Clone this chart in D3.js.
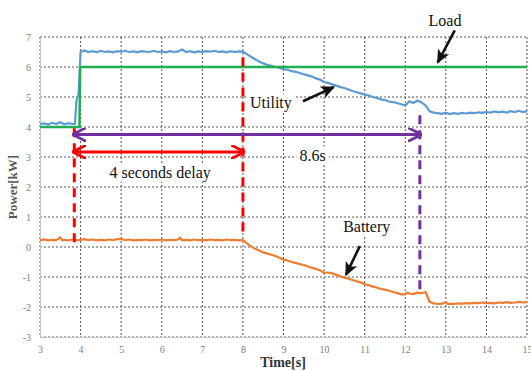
<!DOCTYPE html>
<html>
<head>
<meta charset="utf-8">
<script src="https://cdn.jsdelivr.net/npm/d3@7"></script>
<style>
body { margin: 0; background: #fff; }
svg text { font-family: "Liberation Serif", "DejaVu Serif", serif !important; }
.tick text { fill: #808080; font-size: 10px; }
.grid line { stroke: #555; stroke-dasharray: 2,2; stroke-width: 1; }
.note { font-size: 16px; fill: #111; }
</style>
</head>
<body>
<script>
// time [s], power [kW]
var load = [[3, 4], [3.97, 4], [3.99, 6], [15, 6]];

var utility = [
  [3.0,4.10],[3.1,4.12],[3.2,4.08],[3.3,4.14],[3.4,4.10],[3.5,4.16],[3.6,4.09],[3.7,4.13],[3.8,4.10],[3.86,4.10],
  [3.9,4.9],[3.95,5.1],[4.0,6.5],[4.1,6.55],[4.2,6.50],[4.3,6.53],[4.4,6.49],[4.5,6.54],[4.6,6.50],[4.7,6.52],
  [4.8,6.49],[4.9,6.53],[5.0,6.51],[5.1,6.54],[5.2,6.50],[5.3,6.52],[5.4,6.49],[5.5,6.53],[5.6,6.51],[5.7,6.50],
  [5.8,6.54],[5.9,6.50],[6.0,6.52],[6.1,6.49],[6.2,6.53],[6.3,6.50],[6.4,6.52],[6.5,6.58],[6.6,6.50],[6.7,6.53],
  [6.8,6.49],[6.9,6.52],[7.0,6.50],[7.1,6.53],[7.2,6.51],[7.3,6.54],[7.4,6.50],[7.5,6.52],[7.6,6.49],[7.7,6.53],
  [7.8,6.50],[7.9,6.52],[8.0,6.51],[8.1,6.43],[8.2,6.34],[8.3,6.26],[8.4,6.18],[8.5,6.12],[8.6,6.07],[8.7,6.04],
  [8.8,6.00],[8.9,5.98],[9.0,5.93],[9.1,5.91],[9.2,5.86],[9.3,5.84],[9.4,5.80],[9.5,5.76],[9.6,5.72],[9.7,5.68],
  [9.8,5.62],[9.9,5.58],[10.0,5.50],[10.1,5.47],[10.2,5.42],[10.3,5.38],[10.4,5.33],[10.5,5.30],[10.6,5.25],[10.7,5.20],
  [10.8,5.16],[10.9,5.12],[11.0,5.08],[11.1,5.05],[11.2,5.00],[11.3,4.97],[11.4,4.92],[11.5,4.90],[11.6,4.85],[11.7,4.83],
  [11.8,4.80],[11.9,4.76],[12.0,4.72],[12.1,4.86],[12.2,4.80],[12.3,4.88],[12.4,4.82],[12.5,4.72],[12.6,4.52],[12.7,4.48],
  [12.8,4.46],[12.9,4.44],[13.0,4.48],[13.1,4.43],[13.2,4.46],[13.3,4.44],[13.4,4.47],[13.5,4.45],[13.6,4.48],[13.7,4.46],
  [13.8,4.49],[13.9,4.47],[14.0,4.50],[14.1,4.48],[14.2,4.52],[14.3,4.49],[14.4,4.51],[14.5,4.48],[14.6,4.53],[14.7,4.50],
  [14.8,4.54],[14.9,4.50],[15.0,4.53]
];

var battery = [
  [3.0,0.22],[3.1,0.25],[3.2,0.22],[3.3,0.24],[3.4,0.23],[3.5,0.32],[3.55,0.22],[3.6,0.24],[3.7,0.22],[3.8,0.25],
  [3.9,0.23],[4.0,0.24],[4.1,0.26],[4.2,0.23],[4.3,0.25],[4.4,0.22],[4.5,0.24],[4.6,0.22],[4.7,0.25],[4.8,0.23],
  [4.9,0.26],[5.0,0.27],[5.1,0.23],[5.2,0.25],[5.3,0.22],[5.4,0.24],[5.5,0.23],[5.6,0.25],[5.7,0.22],[5.8,0.24],
  [5.9,0.23],[6.0,0.25],[6.1,0.22],[6.2,0.24],[6.3,0.23],[6.4,0.25],[6.45,0.31],[6.5,0.23],[6.6,0.24],[6.7,0.22],
  [6.8,0.25],[6.9,0.23],[7.0,0.24],[7.1,0.22],[7.2,0.25],[7.3,0.23],[7.4,0.24],[7.5,0.22],[7.6,0.25],[7.7,0.23],
  [7.8,0.24],[7.9,0.22],[8.0,0.23],[8.1,0.12],[8.2,0.02],[8.3,-0.06],[8.4,-0.12],[8.5,-0.18],[8.6,-0.22],[8.7,-0.26],
  [8.8,-0.30],[8.9,-0.36],[9.0,-0.42],[9.1,-0.45],[9.2,-0.50],[9.3,-0.53],[9.4,-0.57],[9.5,-0.60],[9.6,-0.65],[9.7,-0.69],
  [9.8,-0.73],[9.9,-0.78],[10.0,-0.86],[10.1,-0.85],[10.2,-0.88],[10.3,-0.93],[10.4,-0.98],[10.5,-1.02],[10.6,-1.06],[10.7,-1.10],
  [10.8,-1.14],[10.9,-1.18],[11.0,-1.24],[11.1,-1.27],[11.2,-1.32],[11.3,-1.35],[11.4,-1.40],[11.5,-1.42],[11.6,-1.46],[11.7,-1.50],
  [11.8,-1.53],[11.9,-1.58],[12.0,-1.58],[12.05,-1.52],[12.1,-1.55],[12.2,-1.57],[12.3,-1.52],[12.4,-1.54],[12.5,-1.50],[12.6,-1.82],
  [12.7,-1.88],[12.8,-1.90],[12.9,-1.89],[13.0,-1.84],[13.05,-1.90],[13.1,-1.89],[13.2,-1.90],[13.3,-1.88],[13.4,-1.89],[13.5,-1.87],
  [13.6,-1.88],[13.7,-1.86],[13.8,-1.87],[13.9,-1.85],[14.0,-1.87],[14.1,-1.86],[14.2,-1.88],[14.3,-1.85],[14.4,-1.86],[14.5,-1.84],
  [14.6,-1.86],[14.7,-1.85],[14.8,-1.83],[14.9,-1.85],[15.0,-1.84]
];

var xTicks = [3, 4, 5, 6, 7, 8, 9, 10, 11, 12, 13, 14, 15];
var yTicks = [-3, -2, -1, 0, 1, 2, 3, 4, 5, 6, 7];

// annotation marks in data units
var dashedLines = [
  {t: 3.845, y0: 3.96, y1: 0.12, color: "#ff0000"},
  {t: 8.0, y0: 6.32, y1: 0.33, color: "#ff0000"},
  {t: 12.36, y0: 4.39, y1: -1.59, color: "#7030a0"}
];
var spans = [
  {t0: 3.845, t1: 8.0, v: 3.17, color: "#ff0000", head: "head-red"},
  {t0: 3.845, t1: 12.36, v: 3.75, color: "#7030a0", head: "head-purple"}
];
var labels = [
  {text: "Load", t: 12.98, v: 7.56},
  {text: "Utility", t: 8.69, v: 4.83},
  {text: "8.6s", t: 9.72, v: 3.07},
  {text: "4 seconds delay", t: 5.96, v: 2.5},
  {text: "Battery", t: 11.05, v: 0.68}
];
var pointers = [
  {t0: 13.22, v0: 7.22, t1: 12.8, v1: 6.15},
  {t0: 9.48, v0: 4.86, t1: 10.24, v1: 5.33},
  {t0: 10.88, v0: 0.03, t1: 10.54, v1: -0.93}
];

var width = 531, height = 371;
var x = d3.scaleLinear().domain([3, 15]).range([40, 527]);
var y = d3.scaleLinear().domain([-3, 7]).range([337, 37]);

var svg = d3.select("body").append("svg")
    .attr("width", width)
    .attr("height", height);

var defs = svg.append("defs");
function marker(id, color, size) {
  defs.append("marker")
      .attr("id", id)
      .attr("viewBox", "0 0 10 10")
      .attr("refX", 8).attr("refY", 5)
      .attr("markerWidth", size).attr("markerHeight", size)
      .attr("markerUnits", "userSpaceOnUse")
      .attr("orient", "auto-start-reverse")
      .append("path")
      .attr("d", "M0,0 L10,5 L0,10")
      .attr("fill", "none")
      .attr("stroke", color)
      .attr("stroke-width", 2);
}
marker("head-red", "#ff0000", 14);
marker("head-purple", "#7030a0", 14);
defs.append("marker")
    .attr("id", "head-black")
    .attr("viewBox", "0 0 10 10")
    .attr("refX", 9).attr("refY", 5)
    .attr("markerWidth", 14).attr("markerHeight", 14)
    .attr("markerUnits", "userSpaceOnUse")
    .attr("orient", "auto")
    .append("path")
    .attr("d", "M0,0.5 L10,5 L0,9.5 L2.5,5 Z")
    .attr("fill", "#111");

// grid
svg.append("g").attr("class", "grid")
  .selectAll("line").data(xTicks).enter().append("line")
    .attr("x1", d => x(d)).attr("x2", d => x(d))
    .attr("y1", y(7)).attr("y2", y(-3));
svg.append("g").attr("class", "grid")
  .selectAll("line").data(yTicks).enter().append("line")
    .attr("x1", x(3)).attr("x2", x(15))
    .attr("y1", d => y(d)).attr("y2", d => y(d));

// axes
svg.append("g")
    .attr("transform", "translate(0," + y(-3) + ")")
    .call(d3.axisBottom(x).tickValues(xTicks).tickSize(0).tickPadding(9));
svg.append("g")
    .attr("transform", "translate(" + x(3) + ",0)")
    .call(d3.axisLeft(y).tickValues(yTicks).tickSize(0).tickPadding(9)
      .tickFormat(d => d < 0 ? "-" + Math.abs(d) : d));
svg.selectAll(".domain").attr("stroke", "#c8c8c8").attr("stroke-width", 1.2);

svg.append("text")
    .attr("x", 283).attr("y", 367)
    .attr("text-anchor", "middle")
    .style("font-weight", "bold").style("font-size", "14px").style("fill", "#333")
    .text("Time[s]");
svg.append("text")
    .attr("transform", "translate(17,187) rotate(-90)")
    .attr("text-anchor", "middle")
    .style("font-weight", "bold").style("font-size", "13px").style("fill", "#555")
    .text("Power[kW]");

// series
var line = d3.line().x(d => x(d[0])).y(d => y(d[1]));
svg.append("path").datum(battery)
    .attr("fill", "none").attr("stroke", "#ed7d31").attr("stroke-width", 2.2).attr("d", line);
svg.append("path").datum(utility)
    .attr("fill", "none").attr("stroke", "#5b9bd5").attr("stroke-width", 2.2).attr("d", line);
svg.append("path").datum(load)
    .attr("fill", "none").attr("stroke", "#1fae52").attr("stroke-width", 2.4).attr("d", line);

// dashed markers
svg.append("g").selectAll("line").data(dashedLines).enter().append("line")
    .attr("x1", d => x(d.t)).attr("x2", d => x(d.t))
    .attr("y1", d => y(d.y0)).attr("y2", d => y(d.y1))
    .attr("stroke", d => d.color)
    .attr("stroke-width", 3)
    .attr("stroke-dasharray", "9,6");

// span arrows
svg.append("g").selectAll("line").data(spans).enter().append("line")
    .attr("x1", d => x(d.t0) + 1).attr("x2", d => x(d.t1) - 1)
    .attr("y1", d => y(d.v)).attr("y2", d => y(d.v))
    .attr("stroke", d => d.color)
    .attr("stroke-width", 3)
    .attr("marker-start", d => "url(#" + d.head + ")")
    .attr("marker-end", d => "url(#" + d.head + ")");

// labels with white backing
var lab = svg.append("g").selectAll("g").data(labels).enter().append("g")
    .attr("transform", d => "translate(" + x(d.t) + "," + y(d.v) + ")");
lab.append("text")
    .attr("class", "note")
    .attr("text-anchor", "middle")
    .attr("dy", "0.35em")
    .text(d => d.text);
lab.each(function() {
  var g = d3.select(this);
  var b = g.select("text").node().getBBox();
  g.insert("rect", "text")
      .attr("x", b.x - 3).attr("y", b.y)
      .attr("width", b.width + 6).attr("height", b.height)
      .attr("fill", "#fff");
});

// pointer arrows
svg.append("g").selectAll("line").data(pointers).enter().append("line")
    .attr("x1", d => x(d.t0)).attr("y1", d => y(d.v0))
    .attr("x2", d => x(d.t1)).attr("y2", d => y(d.v1))
    .attr("stroke", "#111")
    .attr("stroke-width", 2.6)
    .attr("marker-end", "url(#head-black)");
</script>
</body>
</html>
